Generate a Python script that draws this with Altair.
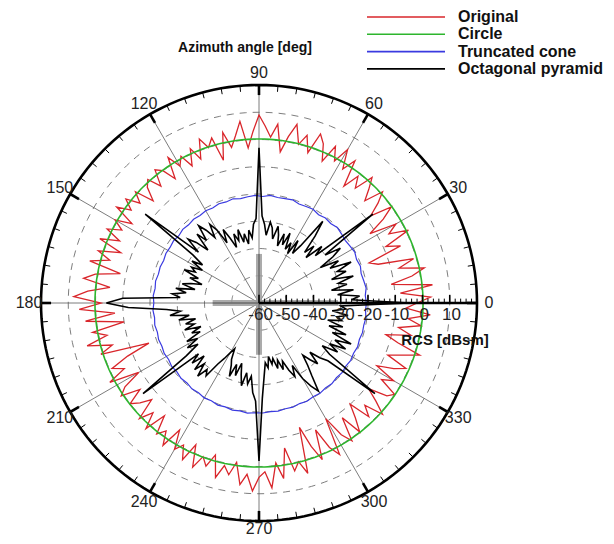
import altair as alt
import pandas as pd

# ---------------- data ----------------
angles_2deg = list(range(0, 360, 2))

original = [
    -2, 3, -8, 4, -11, -3, 2, -7, -1, -14, -17, -4, -9, 1, -6,
    -2, -12, -5, 0, -8, -3, 1, -6, -2, 2, -5, -1, -7, 3, -2,
    5, -1, 4, -3, 3, 6, -2, 4, 0, 7, 2, -4, 6, 1, 5,
    9, 3, -3, 7, 2, -2, 4, -6, 3, 0, 4, -3, 2, -4, 1,
    -2, 3, -5, 0, 2, -4, 1, -1, -6, 1, -3, 2, -2, 3, -5,
    1, -3, 2, -4, 3, -6, 2, -3, 4, -8, 1, 5, -5, 3, 8,
    -2, 6, -7, 4, -10, 2, -3, 5, -4, 1, -17, -8, -1, -5, 2,
    -9, -2, 1, -6, 0, -3, -7, 1, -4, 2, -6, 1, -2, 3, -5,
    2, -1, 4, -3, 5, 0, 3, -2, 6, 1, 4, -1, 7, 3, 9,
    4, 2, 8, -1, 5, -6, 3, 0, 5, -12, -4, 2, -9, -1, 3,
    -11, -3, 1, -8, 0, -5, -10, -2, -6, 1, -4, -9, -2, 0, -7,
    -3, -11, -5, -1, -9, -4, 2, -7, -12, -3, -8, 0, -5, 3, -6,
]

octagonal = [
    -5, -26, -23, -31, -25, -33, -27, -30, -24, -32, -26, -29, -23, -31, -27,
    -34, -28, -24, -30, -7, -33, -29, -36, -31, -35, -28, -22, -34, -38, -33,
    -39, -35, -38, -32, -37, -33, -38, -34, -31, -36, -32, -30, -35, -31, -28,
    -3, -29, -31, -36, -33, -38, -34, -37, -32, -36, -33, -38, -34, -30, -35,
    -29, -26, -31, -27, -24, -30, -26, -33, -28, -25, -31, -7, -30, -35, -31,
    -36, -32, -34, -30, -36, -33, -38, -34, -31, -36, -29, -33, -28, -31, -10,
    -4, -12, -26, -31, -27, -34, -30, -36, -32, -35, -31, -37, -33, -36, -30,
    -34, -29, -33, -27, -6, -31, -27, -32, -26, -30, -25, -29, -27, -33, -36,
    -39, -41, -37, -35, -31, -36, -32, -37, -33, -29, -34, -30, -33, -27, -24,
    -2, -25, -33, -38, -36, -40, -37, -39, -35, -38, -34, -37, -33, -30, -34,
    -28, -24, -21, -27, -31, -35, -32, -29, -34, -30, -27, -6, -28, -32, -26,
    -30, -24, -29, -23, -31, -26, -33, -28, -34, -29, -31, -27, -33, -28, -30,
]

angles_4deg = list(range(0, 360, 4))
truncated = [
    -20.6, -20.9, -20.3, -20.7, -21.0, -20.4, -20.8, -20.2, -20.6, -20.9,
    -20.5, -20.1, -20.7, -20.4, -20.9, -20.3, -20.6, -20.8, -20.2, -20.5,
    -20.7, -20.3, -20.9, -20.5, -20.8, -21.1, -20.6, -21.0, -20.7, -21.2,
    -20.9, -21.3, -21.0, -21.4, -21.1, -21.6, -21.2, -21.5, -21.3, -21.7,
    -21.4, -21.6, -21.2, -21.5, -21.1, -21.4, -21.0, -21.3, -20.9, -21.2,
    -20.8, -21.0, -20.6, -20.9, -20.4, -20.7, -20.2, -20.5, -20.0, -20.3,
    -19.8, -20.1, -19.6, -19.9, -19.5, -19.8, -19.4, -19.7, -19.6, -19.9,
    -19.7, -20.0, -19.8, -20.2, -19.9, -20.3, -20.0, -20.4, -20.1, -20.5,
    -20.2, -20.6, -20.3, -20.7, -20.4, -20.8, -20.5, -20.7, -20.4, -20.8,
]

circle_value = 0.2  # constant RCS of the circle

series_names = ["Original", "Circle", "Truncated cone", "Octagonal pyramid"]
series_colors = ["#d9262b", "#2db52d", "#3a3ae0", "#000000"]
series_widths = [1.3, 1.6, 1.2, 1.6]

grid_levels = [-50, -40, -30, -20, -10, 0, 10]
radial_labels = [-60, -50, -40, -30, -20, -10, 0, 10]
angle_labels = [0, 30, 60, 90, 120, 150, 180, 210, 240, 270, 300, 330]

# residual grey blocks near the centre (angle, end rcs)
residual_angles = [0, 90, 180, 270]
residual_ends = [-31, -42, -43, -41]

R_MIN, R_MAX = -60, 20

# ---------------- build tables ----------------
def closed(angles, values):
    a = list(angles) + [angles[0] + 360]
    v = list(values) + [values[0]]
    return pd.DataFrame({"angle": a, "rcs": v})

circle_angles = list(range(0, 362, 2))
series_frames = [
    closed(angles_2deg, original),
    pd.DataFrame({"angle": circle_angles, "rcs": [circle_value] * len(circle_angles)}),
    closed(angles_4deg, truncated),
    closed(angles_2deg, octagonal),
]

grid_df = pd.DataFrame(
    [{"level": lv, "angle": a, "rcs": lv} for lv in grid_levels for a in circle_angles]
)
outer_df = pd.DataFrame({"angle": circle_angles, "rcs": [R_MAX] * len(circle_angles)})

spokes_df = pd.DataFrame({"angle": angle_labels, "r0": R_MIN, "r1": R_MAX})
major_tick_df = pd.DataFrame({"angle": angle_labels, "r0": R_MAX - 3.7, "r1": R_MAX})
minor_tick_df = pd.DataFrame(
    {"angle": [a for a in range(0, 360, 5) if a % 30], "r0": R_MAX - 2.2, "r1": R_MAX}
)
residual_df = pd.DataFrame({"angle": residual_angles, "r0": R_MIN, "r1": residual_ends})

radial_axis_df = pd.DataFrame({"angle": [0], "r0": [R_MIN], "r1": [R_MAX]})
rad_major_df = pd.DataFrame({"v": list(range(-60, 21, 10))})
rad_minor_df = pd.DataFrame({"v": [v for v in range(-60, 21, 2) if v % 10]})
rad_label_df = pd.DataFrame({"v": radial_labels, "label": [str(v) for v in radial_labels]})
ang_label_df = pd.DataFrame(
    {"angle": angle_labels, "rcs": R_MAX + 4.4, "label": [str(a) for a in angle_labels]}
)

SC = alt.Scale(domain=[-80, 80], nice=False, zero=False)
FONT = "Liberation Sans"

def X(f):
    return alt.X(f, type="quantitative", scale=SC, axis=None)

def Y(f):
    return alt.Y(f, type="quantitative", scale=SC, axis=None)

def polar_points(df):
    return alt.Chart(df).transform_calculate(
        px="(datum.rcs + 60) * cos(datum.angle * PI / 180)",
        py="(datum.rcs + 60) * sin(datum.angle * PI / 180)",
    )

def polar_rules(df):
    return alt.Chart(df).transform_calculate(
        x0="(datum.r0 + 60) * cos(datum.angle * PI / 180)",
        y0="(datum.r0 + 60) * sin(datum.angle * PI / 180)",
        x1="(datum.r1 + 60) * cos(datum.angle * PI / 180)",
        y1="(datum.r1 + 60) * sin(datum.angle * PI / 180)",
    )

layers = []

# dashed grid circles
layers.append(
    polar_points(grid_df).mark_line(color="#6e6e6e", strokeWidth=0.9, strokeDash=[7, 6]).encode(
        x=X("px"), y=Y("py"), detail="level:N", order="angle:Q"
    )
)
# spokes
layers.append(
    polar_rules(spokes_df).mark_rule(color="#5a5a5a", strokeWidth=0.8).encode(
        x=X("x0"), y=Y("y0"), x2="x1:Q", y2="y1:Q"
    )
)
# residual grey blocks in the centre
layers.append(
    polar_rules(residual_df).mark_rule(color="#9c9c9c", strokeWidth=6, opacity=0.85).encode(
        x=X("x0"), y=Y("y0"), x2="x1:Q", y2="y1:Q"
    )
)
layers.append(
    polar_rules(residual_df).mark_rule(color="#555555", strokeWidth=1).encode(
        x=X("x0"), y=Y("y0"), x2="x1:Q", y2="y1:Q"
    )
)

# data series
for frame, color, width in zip(series_frames, series_colors, series_widths):
    layers.append(
        polar_points(frame).mark_line(color=color, strokeWidth=width, strokeJoin="miter").encode(
            x=X("px"), y=Y("py"), order="angle:Q"
        )
    )

# outer circle
layers.append(
    polar_points(outer_df).mark_line(color="black", strokeWidth=2.6).encode(
        x=X("px"), y=Y("py"), order="angle:Q"
    )
)
# angular ticks
layers.append(
    polar_rules(major_tick_df).mark_rule(color="black", strokeWidth=2.6).encode(
        x=X("x0"), y=Y("y0"), x2="x1:Q", y2="y1:Q"
    )
)
layers.append(
    polar_rules(minor_tick_df).mark_rule(color="black", strokeWidth=1).encode(
        x=X("x0"), y=Y("y0"), x2="x1:Q", y2="y1:Q"
    )
)

# radial axis
layers.append(
    polar_rules(radial_axis_df).mark_rule(color="black", strokeWidth=2.6).encode(
        x=X("x0"), y=Y("y0"), x2="x1:Q", y2="y1:Q"
    )
)
layers.append(
    alt.Chart(rad_major_df).transform_calculate(x="datum.v + 60", y0="0", y1="3.0").mark_rule(
        color="black", strokeWidth=1.6
    ).encode(x=X("x"), y=Y("y0"), y2="y1:Q")
)
layers.append(
    alt.Chart(rad_minor_df).transform_calculate(x="datum.v + 60", y0="0", y1="1.6").mark_rule(
        color="black", strokeWidth=1
    ).encode(x=X("x"), y=Y("y0"), y2="y1:Q")
)
layers.append(
    alt.Chart(rad_label_df).transform_calculate(x="datum.v + 60 + 0.6", y="0").mark_text(
        font=FONT, fontSize=17, color="#222222", baseline="middle", align="center", dy=12
    ).encode(x=X("x"), y=Y("y"), text="label:N")
)

# angle labels (the bottom one is pulled in slightly so it stays inside the page)
layers.append(
    polar_points(ang_label_df).transform_filter("datum.angle != 270").mark_text(
        font=FONT, fontSize=16, color="#222222", baseline="middle", align="center"
    ).encode(x=X("px"), y=Y("py"), text="label:N")
)
layers.append(
    polar_points(ang_label_df).transform_filter("datum.angle == 270").mark_text(
        font=FONT, fontSize=16, color="#222222", baseline="middle", align="center", dy=-4
    ).encode(x=X("px"), y=Y("py"), text="label:N")
)

# titles
one = alt.Data(values=[{"k": 1}])
layers.append(
    alt.Chart(one).mark_text(
        text="Azimuth angle [deg]", font=FONT, fontSize=14, fontWeight="bold",
        color="#111111", baseline="middle", align="center"
    ).encode(x=alt.value(204), y=alt.value(-37))
)
layers.append(
    alt.Chart(one).mark_text(
        text="RCS [dBsm]", font=FONT, fontSize=15, fontWeight="bold",
        color="#111111", baseline="middle", align="center"
    ).encode(x=alt.value(404), y=alt.value(255))
)

# legend
for i, (name, color) in enumerate(zip(series_names, series_colors)):
    ypix = -68 + i * 17.3
    layers.append(
        alt.Chart(one).mark_rule(color=color, strokeWidth=1.6).encode(
            x=alt.value(326), x2=alt.value(404), y=alt.value(ypix)
        )
    )
    layers.append(
        alt.Chart(one).mark_text(
            text=name, font=FONT, fontSize=16, fontWeight="bold", color="#111111",
            baseline="middle", align="left"
        ).encode(x=alt.value(417), y=alt.value(ypix))
    )

chart = alt.layer(*layers).properties(
    width=436,
    height=436,
    autosize=alt.AutoSizeParams(type="none"),
    padding={"left": 33, "top": 77, "right": 129, "bottom": 15},
).configure_view(stroke=None)

chart.save("out.html", embed_options={"renderer": "svg", "actions": False})
